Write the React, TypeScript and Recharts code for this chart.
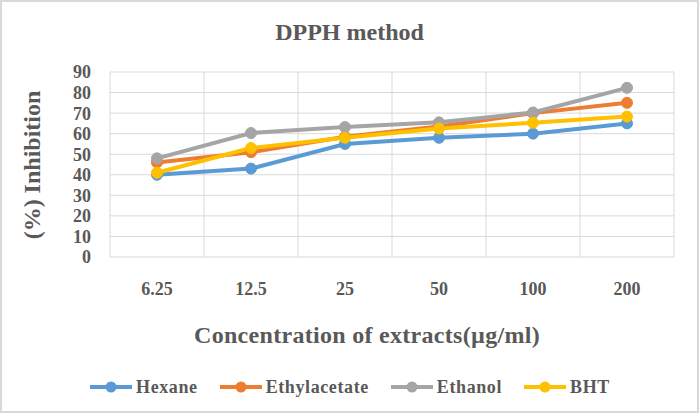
import {
  CartesianGrid,
  Label,
  Legend,
  Line,
  LineChart,
  XAxis,
  YAxis,
} from 'recharts';

const categories = ['6.25', '12.5', '25', '50', '100', '200'];
const hexane = [40, 43, 55, 58, 60, 65];
const ethylacetate = [46, 51, 58.5, 63.5, 70, 75];
const ethanol = [48, 60.3, 63.2, 65.5, 70.3, 82.3];
const bht = [41, 53, 58, 62.5, 65.3, 68.3];
const yTicks = [0, 10, 20, 30, 40, 50, 60, 70, 80, 90];

const series = [
  { key: 'hexane', name: 'Hexane', color: '#5B9BD5' },
  { key: 'ethylacetate', name: 'Ethylacetate', color: '#ED7D31' },
  { key: 'ethanol', name: 'Ethanol', color: '#A5A5A5' },
  { key: 'bht', name: 'BHT', color: '#FFC000' },
];

const data = categories.map((c, i) => ({
  conc: c,
  hexane: hexane[i],
  ethylacetate: ethylacetate[i],
  ethanol: ethanol[i],
  bht: bht[i],
}));

const FONT = '"Liberation Serif", "Times New Roman", serif';
const TEXT = '#595959';

// vertical grid lines sit on the category boundaries, like Excel
const boundaryLines = ({ offset }: any) =>
  categories.concat('').map((_, i) => offset.left + (i * offset.width) / categories.length);

function LegendContent() {
  return (
    <div
      style={{
        display: 'flex',
        justifyContent: 'center',
        alignItems: 'center',
        gap: 22,
        height: 24,
        marginLeft: 16,
        fontFamily: FONT,
        fontWeight: 'bold',
        fontSize: 18,
        letterSpacing: 0.6,
        color: TEXT,
      }}
    >
      {series.map((s) => (
        <div key={s.key} style={{ display: 'flex', alignItems: 'center' }}>
          <svg width={42} height={14}>
            <line x1={0} y1={7} x2={42} y2={7} stroke={s.color} strokeWidth={4} />
            <circle cx={21} cy={7} r={5.5} fill={s.color} />
          </svg>
          <span style={{ marginLeft: 4 }}>{s.name}</span>
        </div>
      ))}
    </div>
  );
}

export default function App() {
  return (
    <div style={{ position: 'absolute', left: 0, top: 0, width: 699, height: 413, background: '#fff' }}>
      <div
        style={{
          position: 'absolute',
          left: 0,
          top: 14,
          width: 699,
          textAlign: 'center',
          fontFamily: FONT,
          fontWeight: 'bold',
          fontSize: 24,
          color: TEXT,
          lineHeight: '36px',
        }}
      >
        DPPH method
      </div>
      <LineChart width={699} height={413} data={data} margin={{ top: 72, right: 25, bottom: 14, left: 10 }}>
        <CartesianGrid stroke="#D9D9D9" strokeWidth={1} verticalCoordinatesGenerator={boundaryLines} />
        <XAxis
          dataKey="conc"
          scale="band"
          height={118}
          axisLine={false}
          tickLine={false}
          tickMargin={19}
          interval={0}
          tick={{ fontSize: 18, fontFamily: FONT, fontWeight: 'bold', fill: TEXT }}
        >
          <Label
            content={() => (
              <text
                x={367}
                y={335}
                textAnchor="middle"
                dominantBaseline="central"
                fontFamily={FONT}
                fontWeight="bold"
                fontSize={24}
                letterSpacing={0.3}
                fill={TEXT}
              >
                Concentration of extracts(µg/ml)
              </text>
            )}
          />
        </XAxis>
        <YAxis
          width={100}
          domain={[0, 90]}
          ticks={yTicks}
          interval={0}
          axisLine={false}
          tickLine={false}
          tickMargin={13}
          tick={{ fontSize: 18, fontFamily: FONT, fontWeight: 'bold', fill: TEXT }}
        >
          <Label
            content={() => (
              <text
                x={32}
                y={165}
                transform="rotate(-90 32 165)"
                textAnchor="middle"
                dominantBaseline="central"
                fontFamily={FONT}
                fontWeight="bold"
                fontSize={24}
                fill={TEXT}
              >
                (%) Inhibition
              </text>
            )}
          />
        </YAxis>
        <Legend verticalAlign="bottom" content={<LegendContent />} />
        {series.map((s) => (
          <Line
            key={s.key}
            dataKey={s.key}
            name={s.name}
            type="linear"
            stroke={s.color}
            strokeWidth={4}
            dot={{ r: 5.5, fill: s.color, stroke: s.color, strokeWidth: 1 }}
            activeDot={false}
            isAnimationActive={false}
          />
        ))}
      </LineChart>
      <div
        style={{
          position: 'absolute',
          inset: 0,
          border: '2px solid #D9D9D9',
          pointerEvents: 'none',
        }}
      />
    </div>
  );
}
